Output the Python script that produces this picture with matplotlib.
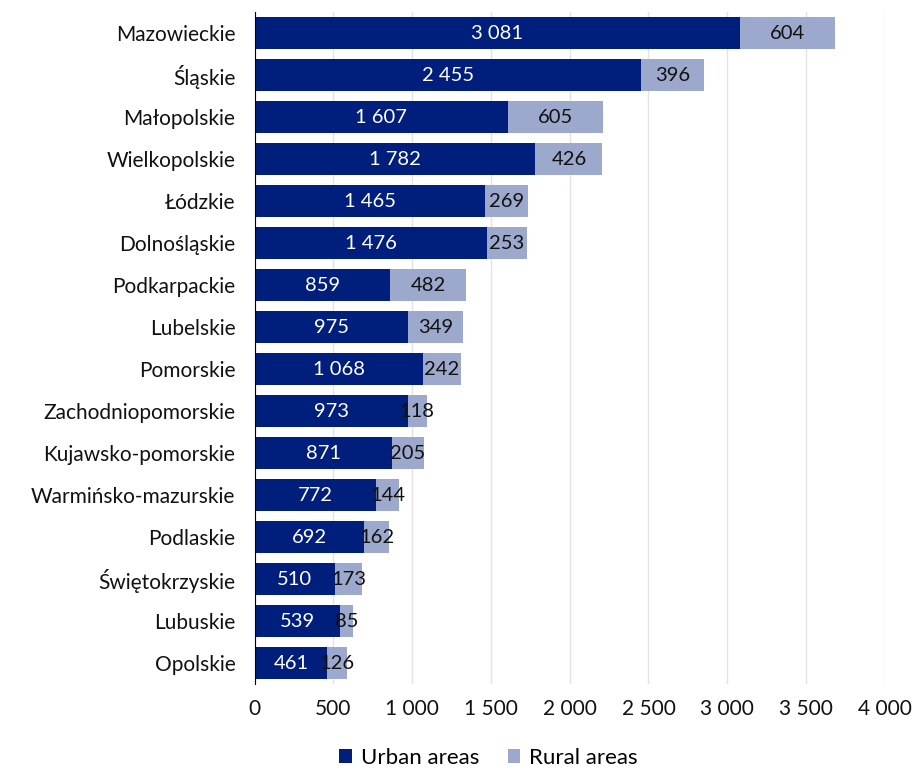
import numpy as np
import matplotlib.pyplot as plt
from matplotlib.ticker import FuncFormatter

regions = ["Mazowieckie", "Śląskie", "Małopolskie", "Wielkopolskie", "Łódzkie",
           "Dolnośląskie", "Podkarpackie", "Lubelskie", "Pomorskie",
           "Zachodniopomorskie", "Kujawsko-pomorskie", "Warmińsko-mazurskie",
           "Podlaskie", "Świętokrzyskie", "Lubuskie", "Opolskie"]
urban = [3081, 2455, 1607, 1782, 1465, 1476, 859, 975, 1068, 973, 871, 772, 692, 510, 539, 461]
rural = [604, 396, 605, 426, 269, 253, 482, 349, 242, 118, 205, 144, 162, 173, 85, 126]

dark = "#001E7B"
light = "#9CA9CD"

plt.rcParams['font.family'] = ['Lato', 'DejaVu Sans']


def fmt(v):
    return f"{int(v):,}".replace(",", " ")


fig = plt.figure(figsize=(9.13, 7.74), dpi=100)
ax = fig.add_axes([0.279, 0.116, 0.690, 0.8685])

y = np.arange(len(regions))
b1 = ax.barh(y, urban, height=0.76, color=dark, label="Urban areas", zorder=3)
b2 = ax.barh(y, rural, left=urban, height=0.76, color=light, label="Rural areas", zorder=3)

for i in range(len(regions)):
    ax.text(urban[i] / 2, i, fmt(urban[i]), ha="center", va="center",
            color="white", fontsize=14.5, zorder=4)
    ax.text(urban[i] + rural[i] / 2, i, fmt(rural[i]), ha="center", va="center",
            color="#111111", fontsize=14.5, zorder=4)

ax.set_ylim(len(regions) - 0.5, -0.5)
ax.set_xlim(0, 4000)
ax.set_xticks(np.arange(0, 4001, 500))
ax.xaxis.set_major_formatter(FuncFormatter(lambda v, p: fmt(v)))
ax.set_yticks(y)
ax.set_yticklabels(regions)
ax.tick_params(axis="both", length=0, labelsize=15, colors="#111111")
ax.tick_params(axis="x", pad=11)
ax.tick_params(axis="y", pad=14)
ax.grid(axis="x", color="#e3e3e3", linewidth=1, zorder=0)
for s in ["top", "right", "bottom"]:
    ax.spines[s].set_visible(False)
ax.spines["left"].set_color("black")
ax.spines["left"].set_zorder(5)

fig.legend(handles=[b1, b2], loc="lower center", bbox_to_anchor=(0.535, -0.018),
           ncol=2, frameon=False, fontsize=16, handlelength=0.55,
           handleheight=0.55, handletextpad=0.4, columnspacing=1.3)

fig.savefig("out.png", dpi=100)
